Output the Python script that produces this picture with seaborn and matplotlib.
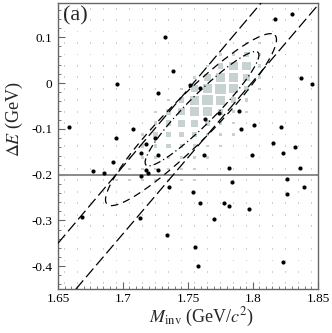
import numpy as np
import pandas as pd
import matplotlib
matplotlib.use("Agg")
import matplotlib.pyplot as plt
import seaborn as sns

# ---------------- data ----------------
x_range = (1.65, 1.85)
y_range = (-0.45, 0.175)
n_xbins = 20
n_ybins = 25

# box-histogram contents (relative, 0..9), rows from top (dE=0.1625) to bottom (dE=-0.4375)
box_rows = [
    [1,1,1,1,1,1,1,1,1,1,1,1,1,1,1,1,1,1,1,1],
    [1,1,1,1,1,1,1,1,1,1,1,1,1,1,1,1,1,1,1,1],
    [1,1,1,1,1,1,1,1,1,1,1,1,1,1,1,1,1,1,1,1],
    [1,1,1,1,1,1,1,1,1,1,1,1,1,1,2,2,1,1,1,1],
    [1,1,1,1,1,1,1,1,1,1,1,1,2,3,4,2,1,1,1,1],
    [1,1,1,1,1,1,1,1,1,1,1,2,5,7,7,3,1,1,1,1],
    [1,1,1,1,1,1,1,1,1,1,2,6,8,8,6,2,1,1,1,1],
    [1,1,1,1,1,1,1,1,1,2,6,8,9,8,4,2,1,1,1,1],
    [1,1,1,1,1,1,1,1,2,5,8,9,8,5,3,1,1,1,1,1],
    [1,1,1,1,1,1,1,2,5,6,8,8,5,3,2,1,1,1,1,1],
    [1,1,1,1,1,1,1,3,5,6,6,5,3,2,1,1,1,1,1,1],
    [1,1,1,1,1,1,2,4,5,5,4,3,2,2,1,1,1,1,1,1],
    [1,1,1,1,1,1,3,3,4,3,3,2,2,1,1,1,1,1,1,1],
    [1,1,1,1,1,2,3,3,3,2,2,2,1,1,1,1,1,1,1,1],
    [1,1,1,1,1,2,2,2,2,2,2,1,1,1,1,1,1,1,1,1],
    [1,1,1,1,2,2,2,2,2,2,2,1,1,1,1,1,1,1,1,1],
    [1,1,1,1,1,1,1,1,1,1,1,1,1,1,1,1,1,1,1,1],
    [1,1,1,1,1,1,1,1,1,1,1,1,1,1,1,1,1,1,1,1],
    [1,1,1,1,1,1,1,1,1,1,1,1,1,1,1,1,1,1,1,1],
    [1,1,1,1,1,1,1,1,1,1,1,1,1,1,1,1,1,1,1,1],
    [1,1,1,1,1,1,1,1,1,1,1,1,1,1,1,1,1,1,1,1],
    [1,1,1,1,1,1,1,1,1,1,1,1,1,1,1,1,1,1,1,1],
    [1,1,1,1,1,1,1,1,1,1,1,1,1,1,1,1,1,1,1,1],
    [1,1,1,1,1,1,1,1,1,1,1,1,1,1,1,1,1,1,1,1],
    [1,1,1,1,1,1,1,1,1,1,1,1,1,1,1,1,1,1,1,1],
]

# candidate events
ev_m = [1.695, 1.6587, 1.6949, 1.708, 1.727, 1.7175, 1.7246, 1.7136, 1.7267, 1.6926,
        1.7326, 1.8172, 1.830, 1.7382, 1.7515, 1.7595, 1.837, 1.8454, 1.789, 1.774,
        1.7633, 1.7908, 1.8005, 1.8218, 1.8151, 1.8326, 1.7992, 1.8228, 1.7625, 1.6772,
        1.6851, 1.7136, 1.7177, 1.719, 1.7272, 1.6682, 1.7131, 1.7356, 1.7541, 1.7595,
        1.7818, 1.7836, 1.778, 1.7818, 1.7703, 1.7967, 1.7336, 1.7551, 1.7574, 1.8228,
        1.8264, 1.8264, 1.8362, 1.8395]
ev_de = [-0.0015, -0.095, -0.119, -0.101, -0.021, -0.133, -0.120, -0.152, -0.158, -0.172,
         0.101, 0.140, 0.152, 0.026, -0.004, -0.010, 0.011, -0.0015, -0.060, -0.066,
         -0.078, -0.100, -0.092, -0.097, -0.130, -0.139, -0.157, -0.153, -0.157, -0.1915,
         -0.197, -0.2025, -0.189, -0.197, -0.1893, -0.2935, -0.2957, -0.227, -0.237, -0.263,
         -0.185, -0.216, -0.261, -0.2696, -0.2975, -0.276, -0.332, -0.359, -0.399, -0.392,
         -0.209, -0.2426, -0.185, -0.228]

# diagonal band boundaries: (M, dE) endpoints
band_upper = ([1.65, 1.8062], [-0.35, 0.175])
band_lower = ([1.6638, 1.85], [-0.45, 0.1706])
dE_cut = -0.2

# ellipses: centre (M, dE), semi-axis conjugate vectors in (M, dE)
outer_ell = dict(c=(1.7523, -0.0799), u=(0.0646, 0.1846), v=(0.0123, -0.0352))
inner_ell = dict(c=(1.7608, -0.0560), u=(0.0431, 0.1231), v=(0.0077, -0.0220))

xticks = [1.65, 1.7, 1.75, 1.8, 1.85]
xticklabels = ["1.65", "1.7", "1.75", "1.8", "1.85"]
yticks = [0.1, 0.0, -0.1, -0.2, -0.3, -0.4]
yticklabels = ["0.1", "0", "-0.1", "-0.2", "-0.3", "-0.4"]

# ---------------- plotting ----------------
sns.set_theme(style="white")
plt.rcParams["font.family"] = ["Liberation Serif", "DejaVu Serif"]
plt.rcParams["mathtext.fontset"] = "stix"
plt.rcParams["axes.unicode_minus"] = False

dpi = 100
fig = plt.figure(figsize=(3.32, 3.33), dpi=dpi)
ax = fig.add_axes([58/332, 1-289/333, 260/332, 286/333])

xw = (x_range[1]-x_range[0]) / n_xbins
yw = (y_range[1]-y_range[0]) / n_ybins
xc = x_range[0] + xw*(np.arange(n_xbins)+0.5)
yc = y_range[1] - yw*(np.arange(n_ybins)+0.5)
XX, YY = np.meshgrid(xc, yc)
cnt = np.array(box_rows, dtype=float)
side_px = np.maximum(10.5*cnt/9.0, 1.8)
area_pt2 = (side_px*72.0/dpi)**2
df_box = pd.DataFrame({"m": XX.ravel(), "de": YY.ravel(), "a": area_pt2.ravel()})
amin, amax = df_box["a"].min(), df_box["a"].max()
sns.scatterplot(data=df_box, x="m", y="de", size="a", sizes=(amin, amax),
                size_norm=(amin, amax), marker="s", color="#c9d2d2",
                linewidth=0, legend=False, ax=ax, zorder=1)

ax.axhline(dE_cut, color="#8a8a8a", lw=1.4, zorder=2)

for (xs, ys) in (band_upper, band_lower):
    sns.lineplot(x=xs, y=ys, color="black", lw=0.9, ax=ax, zorder=3,
                 dashes=False, estimator=None, sort=False).lines[-1].set_dashes([9, 3.5])

t = np.linspace(0, 2*np.pi, 300)
for ell, dsh in ((outer_ell, [6, 4]), (inner_ell, [6, 2.5, 1, 2.5])):
    cx, cy = ell["c"]; ux, uy = ell["u"]; vx, vy = ell["v"]
    ex = cx + ux*np.cos(t) + vx*np.sin(t)
    ey = cy + uy*np.cos(t) + vy*np.sin(t)
    ln, = ax.plot(ex, ey, color="black", lw=0.9, zorder=3)
    ln.set_dashes(dsh)

df_ev = pd.DataFrame({"m": ev_m, "de": ev_de})
sns.scatterplot(data=df_ev, x="m", y="de", color="black", s=9, linewidth=0,
                ax=ax, zorder=4)

ax.set_xlim(*x_range)
ax.set_ylim(*y_range)
ax.set_xticks(xticks)
ax.set_xticklabels(xticklabels)
ax.set_yticks(yticks)
ax.set_yticklabels(yticklabels)
ax.set_xticks(np.arange(1.655, 1.85, 0.005), minor=True)
ax.set_yticks(np.arange(-0.44, 0.175, 0.02), minor=True)
ax.tick_params(which="both", direction="in", colors="#666666", labelcolor="black",
               labelsize=9.5, top=False, right=False, left=True, bottom=True)
ax.tick_params(which="major", length=5, width=0.8)
ax.tick_params(which="minor", length=2.5, width=0.6)
ax.tick_params(axis="x", pad=3)
ax.tick_params(axis="y", pad=4)
for sp in ax.spines.values():
    sp.set_color("#666666")
    sp.set_linewidth(1.0)

ax.set_xlabel(r"$M_{\rm inv}$ (GeV/$c^2$)", fontsize=13)
ax.set_ylabel(r"$\Delta E$ (GeV)", fontsize=13)
ax.xaxis.set_label_coords(0.554, -0.058)
ax.yaxis.set_label_coords(-0.125, 0.594)
ax.text(0.02, 0.99, "(a)", transform=ax.transAxes, ha="left", va="top", fontsize=16)

fig.savefig("out.png", dpi=dpi)
